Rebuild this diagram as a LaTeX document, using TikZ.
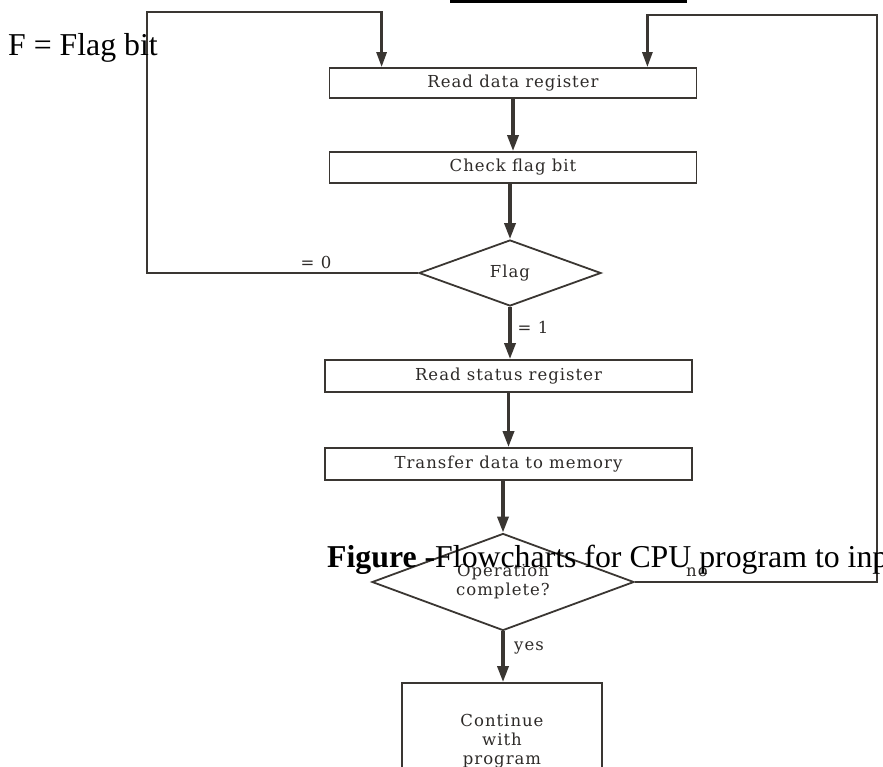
\documentclass[tikz,border=0pt]{standalone}
\usepackage{fontspec}
\setmainfont{Liberation Serif}
\newfontfamily\chartfont{DejaVu Serif}[LetterSpace=6]
\usetikzlibrary{shapes.geometric,arrows.meta}

\definecolor{ink}{RGB}{58,54,50}
\definecolor{inktext}{RGB}{45,42,40}

\begin{document}
\begin{tikzpicture}[x=1pt,y=-1pt,
  chart/.style={font=\chartfont\fontsize{16.5}{19}\selectfont, text=inktext},
  box/.style={chart, draw=ink, line width=1.8pt, rectangle, inner sep=0pt, align=center},
  decision/.style={chart, draw=ink, line width=1.8pt, diamond, inner sep=0pt, align=center},
  flow/.style={draw=ink, line width=3.4pt, -{Triangle[length=16pt,width=11pt]}},
  loopline/.style={draw=ink, line width=2.8pt, -{Triangle[length=15pt,width=10pt]}},
  lbl/.style={chart, inner sep=0pt},
  overlay text/.style={font=\fontsize{31.8}{36}\selectfont, inner sep=0pt, anchor=base west, text=black}
]
\useasboundingbox (0,0) rectangle (883,766);
\clip (0,0) rectangle (883,766);

% cut-off heading rule at the top
\fill[black] (450,0) rectangle (687,3);

% process boxes and decisions
\node[box, minimum width=367, minimum height=30] (rd) at (513,83) {Read data register};
\node[box, minimum width=367, minimum height=31] (cf) at (513,167.5) {Check flag bit};
\node[decision, minimum width=182, minimum height=66, aspect=2.76] (flag) at (510,273) {Flag};
\node[box, minimum width=367, minimum height=32] (rs) at (508.5,376) {Read status register};
\node[box, minimum width=367, minimum height=32] (tr) at (508.5,464) {Transfer data to memory};
\node[decision, minimum width=262, minimum height=97, aspect=2.7] (op) at (503,582) {Operation\\complete?};
\node[box, minimum width=200, minimum height=116] (cont) at (502,741) {Continue\\with\\program};

% loop corners
\coordinate (lcorner) at (147,12);
\coordinate (rcorner) at (877,15);

% main flow
\draw[flow] (rd.south) -- (cf.north);
\draw[flow] (cf.south -| flag.north) -- (flag.north);
\draw[flow] (flag.south) -- (flag.south |- rs.north);
\draw[flow] (rs.south) -- (tr.north);
\draw[flow] (tr.south -| op.north) -- (op.north);
\draw[flow] (op.south) -- (op.south |- cont.north);

% return paths
\draw[loopline] (flag.west) -| (lcorner) -| ([xshift=53pt]rd.north west);
\draw[loopline] (op.east) -| (rcorner) -| ([xshift=-50pt]rd.north east);

% branch labels
\node[lbl] (l0) at (316,262) {= 0};
\node[lbl] (l1) at (533,327) {= 1};
\node[lbl] (lno) at (697,572) {no};
\node[lbl] (lyes) at (529,648) {yes};

% overlaid text
\node[overlay text] (key) at (8,55) {F = Flag bit};
\node[overlay text] (caption) at (327,567.5) {\textbf{Figure -}Flowcharts for CPU program to inp};
\end{tikzpicture}
\end{document}
